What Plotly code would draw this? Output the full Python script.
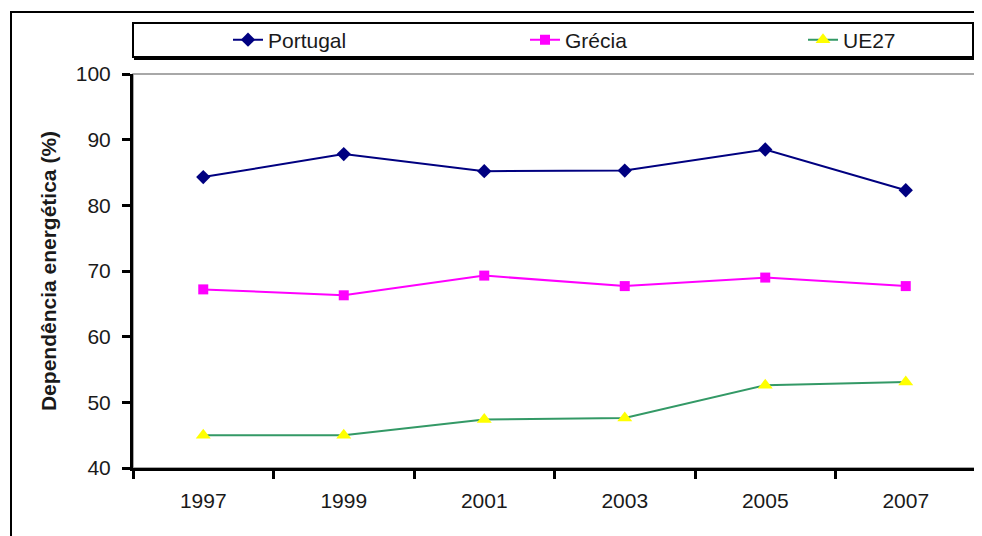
import plotly.graph_objects as go

years = ["1997", "1999", "2001", "2003", "2005", "2007"]
portugal = [84.3, 87.8, 85.2, 85.3, 88.5, 82.3]
grecia = [67.2, 66.3, 69.3, 67.7, 69.0, 67.7]
ue27 = [45.0, 45.0, 47.4, 47.6, 52.6, 53.1]

# page has an 8px body margin; work in screen pixels and convert
OFF = 8
W, H = 982 - OFF, 536 - OFF
SL, ST, SR, SB = 133, 74, 976, 468          # plot area in screen px
L, T = SL - OFF, ST - OFF
R, B = W - (SR - OFF), H - (SB - OFF)
pw, ph = W - L - R, H - T - B

def px_x(sx):
    return (sx - OFF - L) / pw

def px_y(sy):
    return 1 + (T - (sy - OFF)) / ph

FONT = "Liberation Sans, Arial, sans-serif"
TXT = "#1a1a1a"

fig = go.Figure()
fig.add_trace(go.Scatter(x=years, y=portugal, name="Portugal", mode="lines+markers",
                         line=dict(color="#000080", width=2), legend="legend",
                         marker=dict(symbol="diamond", size=11, color="#000080")))
fig.add_trace(go.Scatter(x=years, y=grecia, name="Grécia", mode="lines+markers",
                         line=dict(color="#FF00FF", width=2), legend="legend2",
                         marker=dict(symbol="square", size=10, color="#FF00FF")))
fig.add_trace(go.Scatter(x=years, y=ue27, name="UE27", mode="lines+markers",
                         line=dict(color="#339966", width=2), legend="legend3",
                         marker=dict(symbol="triangle-up", size=13, color="#FFFF00")))

shapes = [
    # outer frame
    dict(type="rect", xref="paper", yref="paper", x0=px_x(11), x1=px_x(1000),
         y0=px_y(560), y1=px_y(12), line=dict(color="black", width=2), layer="below"),
    # plot area gray border
    dict(type="rect", xref="paper", yref="paper", x0=0, x1=1, y0=0, y1=1,
         line=dict(color="#8c8c8c", width=1.5), layer="below"),
    # legend shadow
    dict(type="rect", xref="paper", yref="paper", x0=px_x(135), x1=px_x(975),
         y0=px_y(59), y1=px_y(25), line=dict(color="black", width=2),
         fillcolor="black", layer="below"),
    # legend box
    dict(type="rect", xref="paper", yref="paper", x0=px_x(133), x1=px_x(973),
         y0=px_y(57), y1=px_y(23), line=dict(color="black", width=2),
         fillcolor="white", layer="below"),
]

def leg(sx):
    return dict(orientation="h", x=px_x(sx), y=px_y(40), xanchor="left", yanchor="middle",
                bgcolor="rgba(0,0,0,0)", borderwidth=0,
                font=dict(family=FONT, size=21, color=TXT))

fig.update_layout(
    width=W, height=H,
    margin=dict(l=L, r=R, t=T, b=B),
    paper_bgcolor="white", plot_bgcolor="white",
    font=dict(family=FONT, size=21, color=TXT),
    shapes=shapes,
    showlegend=True,
    legend=leg(228),
    legend2=leg(525),
    legend3=leg(803),
    xaxis=dict(type="category", range=[-0.5, 5.5], showgrid=False, zeroline=False,
               showline=True, linecolor="black", linewidth=3, automargin=False,
               ticks="outside", tickson="boundaries", ticklen=8, tickwidth=3, tickcolor="black",
               ticklabelstandoff=12, tickfont=dict(family=FONT, size=21, color=TXT)),
    yaxis=dict(range=[40, 100], dtick=10, showgrid=False, zeroline=False,
               showline=True, linecolor="black", linewidth=3, automargin=False,
               ticks="outside", ticklen=8, tickwidth=3, tickcolor="black",
               ticklabelstandoff=7, tickfont=dict(family=FONT, size=21, color=TXT),
               title=dict(text="<b>Dependência energética (%)</b>", standoff=14,
                          font=dict(family=FONT, size=21, color=TXT))),
)

fig.write_html("out.html")
